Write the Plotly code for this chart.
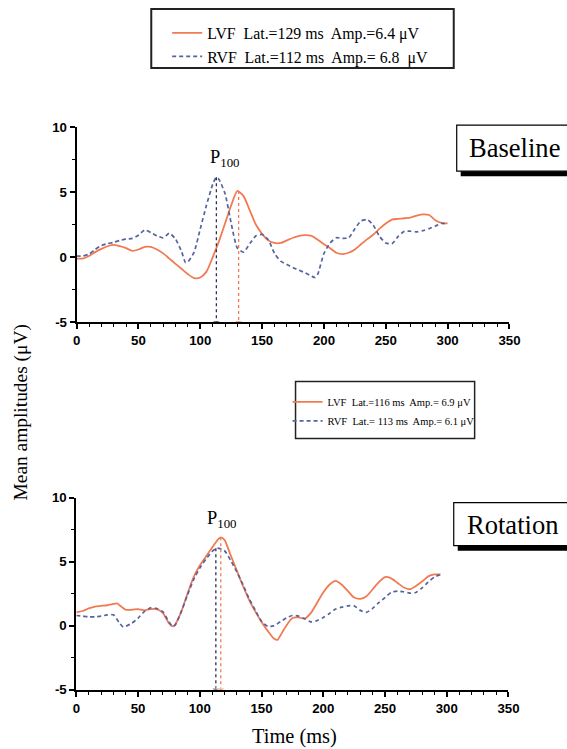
import plotly.graph_objects as go

# The photographed page shows the figure at ~0.979 scale with an ~8px top offset;
# positions below are given in final picture pixels and mapped back.
S = 0.979
OFFY = 8
W = round(567 / S)
H = round((749 - OFFY) / S)

# ---------------- data ----------------
t_base_lvf = [0, 5, 10, 15, 20, 25, 30, 35, 40, 45, 50, 55, 60, 65, 70, 75, 80, 85, 90, 95,
              100, 105, 110, 115, 120, 125, 130, 135, 140, 145, 150, 155, 160, 165, 170, 175,
              180, 185, 190, 195, 200, 205, 210, 215, 220, 225, 230, 235, 240, 245, 250, 255,
              260, 265, 270, 275, 280, 285, 290, 295, 300]
a_base_lvf = [-0.1, -0.1, 0.1, 0.4, 0.65, 0.85, 0.95, 0.85, 0.7, 0.5, 0.6, 0.8, 0.8, 0.6, 0.3, -0.1,
              -0.5, -0.9, -1.3, -1.6, -1.55, -1.1, 0.0, 1.2, 2.6, 4.0, 5.1, 4.7, 3.6, 2.5, 1.8, 1.3,
              1.1, 1.1, 1.3, 1.5, 1.65, 1.7, 1.65, 1.35, 1.0, 0.7, 0.35, 0.25, 0.35, 0.6, 1.0, 1.4,
              1.75, 2.2, 2.6, 2.9, 2.95, 3.0, 3.05, 3.2, 3.3, 3.25, 2.85, 2.65, 2.6]

t_base_rvf = [0, 5, 10, 15, 20, 25, 30, 35, 40, 45, 50, 55, 60, 65, 70, 75, 80, 85, 88, 90, 95,
              100, 105, 110, 113, 115, 120, 125, 130, 135, 140, 145, 150, 155, 160, 165, 170, 175,
              180, 185, 190, 193, 195, 200, 205, 210, 215, 220, 225, 230, 235, 240, 245, 250, 255,
              260, 265, 270, 275, 280, 285, 290, 295, 300]
a_base_rvf = [0.1, 0.1, 0.25, 0.6, 0.9, 1.05, 1.15, 1.3, 1.4, 1.45, 1.7, 2.1, 1.9, 1.65, 1.5, 1.85,
              1.4, 0.4, -0.4, -0.35, 0.4, 2.2, 4.0, 5.6, 6.15, 6.0, 4.9, 2.6, 0.7, 0.4, 1.05, 1.65,
              1.75, 1.35, 0.3, -0.3, -0.55, -0.8, -1.0, -1.2, -1.45, -1.55, -1.3, 0.3, 1.1, 1.5,
              1.45, 1.5, 2.2, 2.8, 2.9, 2.45, 1.6, 1.1, 1.05, 1.6, 2.0, 2.0, 1.95, 2.05, 2.2, 2.4,
              2.6, 2.55]

t_rot_lvf = [0, 5, 10, 15, 20, 25, 30, 33, 35, 40, 45, 50, 55, 60, 65, 70, 75, 78, 80, 85, 90, 95,
             100, 105, 110, 115, 117, 120, 125, 130, 135, 140, 145, 150, 155, 160, 163, 165, 170,
             175, 180, 185, 190, 195, 200, 205, 210, 215, 220, 225, 230, 235, 240, 245, 250, 255,
             260, 265, 270, 275, 280, 285, 290, 295]
a_rot_lvf = [1.05, 1.15, 1.35, 1.5, 1.55, 1.6, 1.7, 1.75, 1.6, 1.25, 1.25, 1.3, 1.2, 1.3, 1.3, 1.0,
             0.2, -0.05, 0.1, 1.1, 2.5, 3.8, 4.7, 5.4, 6.1, 6.75, 6.9, 6.7, 5.5, 4.3, 3.1, 2.0, 1.1,
             0.3, -0.4, -1.0, -1.1, -0.8, 0.0, 0.6, 0.65, 0.55, 1.0, 1.8, 2.6, 3.2, 3.5, 3.2, 2.7,
             2.2, 2.1, 2.3, 2.85, 3.4, 3.8, 3.7, 3.35, 3.0, 2.85, 3.1, 3.45, 3.85, 4.0, 4.0]

t_rot_rvf = [0, 5, 10, 15, 20, 25, 30, 35, 38, 40, 45, 50, 55, 60, 65, 70, 75, 78, 80, 85, 90, 95,
             100, 105, 110, 114, 120, 125, 130, 135, 140, 145, 150, 155, 160, 165, 170, 175, 180,
             185, 190, 195, 200, 205, 210, 215, 220, 225, 230, 235, 240, 245, 250, 255, 260, 265,
             270, 275, 280, 285, 290, 295]
a_rot_rvf = [0.8, 0.75, 0.7, 0.7, 0.75, 0.85, 0.85, 0.2, -0.1, -0.05, 0.2, 0.6, 1.1, 1.4, 1.35, 1.1,
             0.3, -0.05, 0.05, 1.1, 2.4, 3.6, 4.5, 5.2, 5.8, 6.05, 5.85, 5.1, 4.2, 3.2, 2.1, 1.2,
             0.35, -0.05, 0.0, 0.3, 0.6, 0.8, 0.75, 0.55, 0.3, 0.4, 0.65, 0.95, 1.3, 1.45, 1.55,
             1.55, 1.2, 1.05, 1.35, 1.8, 2.2, 2.6, 2.7, 2.65, 2.55, 2.6, 2.95, 3.4, 3.8, 4.0]

# peak markers (latency as drawn, amplitude at peak)
base_peak_t = {"LVF": 131, "RVF": 113}
base_peak_a = {"LVF": 5.1, "RVF": 6.15}
rot_peak_t = {"LVF": 117, "RVF": 113}
rot_peak_a = {"LVF": 6.9, "RVF": 6.05}

names_base = {"LVF": "LVF\u00a0 Lat.=129 ms\u00a0 Amp.=6.4 \u03bcV",
              "RVF": "RVF\u00a0 Lat.=112 ms\u00a0 Amp.= 6.8\u00a0 \u03bcV"}
names_rot = {"LVF": "LVF\u00a0 Lat.=116 ms\u00a0 Amp.= 6.9 \u03bcV",
             "RVF": "RVF\u00a0 Lat.= 113 ms\u00a0 Amp.= 6.1 \u03bcV"}

x_tickvals = [0, 50, 100, 150, 200, 250, 300, 350]
x_ticktext = ["0", "50", "100", "150", "200", "250", "300", "350"]
y_tickvals = [-5, 0, 5, 10]
y_ticktext = ["-5", "0", "5", "10"]

ORANGE = "#f27a52"
BLUE = "#55639f"
DARK = "#2a2f55"
SERIF = "Liberation Serif"

def fs(v):
    return v / S

fig = go.Figure()

def add_panel(xa, ya, tl, al, tr, ar, names, pk_t, pk_a, legend):
    fig.add_trace(go.Scatter(x=tl, y=al, mode="lines", name=names["LVF"],
                             line=dict(color=ORANGE, width=1.8, shape="spline", smoothing=0.6),
                             xaxis=xa, yaxis=ya, legend=legend))
    fig.add_trace(go.Scatter(x=tr, y=ar, mode="lines", name=names["RVF"],
                             line=dict(color=BLUE, width=1.7, dash="4px,3px", shape="spline",
                                       smoothing=0.6),
                             xaxis=xa, yaxis=ya, legend=legend))
    for key, col in (("RVF", DARK), ("LVF", ORANGE)):
        fig.add_trace(go.Scatter(x=[pk_t[key], pk_t[key]], y=[pk_a[key], -5],
                                 mode="lines+markers",
                                 line=dict(color=col, width=1.3, dash="dot"),
                                 marker=dict(symbol="triangle-down", size=[0, 7], color=col),
                                 xaxis=xa, yaxis=ya, showlegend=False, hoverinfo="skip"))

add_panel("x", "y", t_base_lvf, a_base_lvf, t_base_rvf, a_base_rvf, names_base,
          base_peak_t, base_peak_a, "legend")
add_panel("x2", "y2", t_rot_lvf, a_rot_lvf, t_rot_rvf, a_rot_rvf, names_rot,
          rot_peak_t, rot_peak_a, "legend2")

def px_x(p):
    return (p / S) / W

def px_y(p):
    return 1 - ((p - OFFY) / S) / H

axis_common = dict(showline=True, linecolor="black", linewidth=2, ticks="outside",
                   ticklen=5, tickwidth=1.5, tickcolor="black", showgrid=False, zeroline=False,
                   tickfont=dict(family="Liberation Sans", size=fs(13), color="black", weight="bold"))

minor_x = dict(tickvals=list(range(10, 350, 10)), ticks="outside", ticklen=3,
               tickcolor="black", tickwidth=1.2)
minor_y = dict(tickvals=[-2.5, 2.5, 7.5], ticks="outside", ticklen=3,
               tickcolor="black", tickwidth=1.2)

fig.update_layout(
    width=W, height=H, margin=dict(l=0, r=0, t=0, b=0),
    paper_bgcolor="white", plot_bgcolor="white",
    xaxis=dict(domain=[px_x(73), px_x(508)], range=[0, 350], anchor="y",
               tickvals=x_tickvals, ticktext=x_ticktext, minor=minor_x, **axis_common),
    yaxis=dict(domain=[px_y(323), px_y(128)], range=[-5, 10], anchor="x",
               tickvals=y_tickvals, ticktext=y_ticktext, minor=minor_y, **axis_common),
    xaxis2=dict(domain=[px_x(72.7), px_x(507)], range=[0, 350], anchor="y2",
                tickvals=x_tickvals, ticktext=x_ticktext, minor=minor_x, **axis_common),
    yaxis2=dict(domain=[px_y(690), px_y(498)], range=[-5, 10], anchor="x2",
                tickvals=y_tickvals, ticktext=y_ticktext, minor=minor_y, **axis_common),
    legend=dict(x=px_x(164), y=px_y(17), xanchor="left", yanchor="top",
                bgcolor="rgba(0,0,0,0)", borderwidth=0, tracegroupgap=0,
                font=dict(family=SERIF, size=fs(15.5), color="black"), traceorder="normal"),
    legend2=dict(x=px_x(285), y=px_y(388), xanchor="left", yanchor="top",
                 bgcolor="rgba(0,0,0,0)", borderwidth=0,
                 font=dict(family=SERIF, size=fs(10.3), color="black"), traceorder="normal"),
    showlegend=True,
)

shapes = []
# legend boxes
shapes.append(dict(type="rect", xref="paper", yref="paper",
                   x0=px_x(148), x1=px_x(452), y0=px_y(69), y1=px_y(10),
                   line=dict(color="#222", width=2), fillcolor="rgba(0,0,0,0)", layer="below"))
shapes.append(dict(type="rect", xref="paper", yref="paper",
                   x0=px_x(293), x1=px_x(473), y0=px_y(439), y1=px_y(382),
                   line=dict(color="#222", width=1.5), fillcolor="rgba(0,0,0,0)", layer="below"))
# condition label boxes with shadows (cut by the right edge of the picture)
for (x0, y0, y1) in ((455, 126, 172), (452, 503, 546)):
    shapes.append(dict(type="rect", xref="paper", yref="paper",
                       x0=px_x(x0 + 4), x1=1, y0=px_y(y1 + 5), y1=px_y(y0 + 5),
                       line=dict(width=0), fillcolor="black"))
    shapes.append(dict(type="rect", xref="paper", yref="paper",
                       x0=px_x(x0), x1=1, y0=px_y(y1), y1=px_y(y0),
                       line=dict(width=0), fillcolor="white"))
    shapes.append(dict(type="path", xref="paper", yref="paper",
                       path=f"M 1,{px_y(y0)} L {px_x(x0)},{px_y(y0)} L {px_x(x0)},{px_y(y1)} L 1,{px_y(y1)}",
                       line=dict(color="black", width=1.2)))
fig.update_layout(shapes=shapes)

annotations = [
    dict(text="Baseline", xref="paper", yref="paper", x=px_x(513), y=px_y(149),
         xanchor="center", yanchor="middle", showarrow=False,
         font=dict(family=SERIF, size=fs(26), color="black")),
    dict(text="Rotation", xref="paper", yref="paper", x=px_x(511), y=px_y(525),
         xanchor="center", yanchor="middle", showarrow=False,
         font=dict(family=SERIF, size=fs(26), color="black")),
    dict(text="P<sub>100</sub>", xref="x", yref="y", x=120, y=7.6,
         xanchor="center", yanchor="middle", showarrow=False,
         font=dict(family=SERIF, size=fs(18), color="black")),
    dict(text="P<sub>100</sub>", xref="x2", yref="y2", x=118, y=8.3,
         xanchor="center", yanchor="middle", showarrow=False,
         font=dict(family=SERIF, size=fs(18), color="black")),
    dict(text="Mean amplitudes (\u03bcV)", xref="paper", yref="paper", x=px_x(18), y=px_y(413),
         xanchor="center", yanchor="middle", textangle=-90, showarrow=False,
         font=dict(family=SERIF, size=fs(19), color="black")),
    dict(text="Time (ms)", xref="paper", yref="paper", x=px_x(292), y=px_y(737),
         xanchor="center", yanchor="middle", showarrow=False,
         font=dict(family=SERIF, size=fs(20), color="black")),
]
fig.update_layout(annotations=annotations)

fig.write_html("out.html")
